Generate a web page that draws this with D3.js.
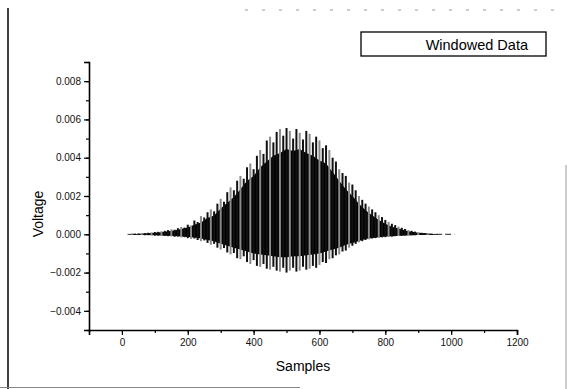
<!DOCTYPE html>
<html>
<head>
<meta charset="utf-8">
<script src="https://cdn.jsdelivr.net/npm/d3@7"></script>
<style>
  body { margin: 0; background: #fff; }
  svg { display: block; font-family: "Liberation Sans", Arial, sans-serif; }
</style>
</head>
<body>
<svg id="chart" width="567" height="389"></svg>
<script>
// sample positions of the outer (spike) envelope, read every 10 samples
const spikeSamples = [
  20, 30, 40, 50, 60, 70, 80, 90, 100, 110, 120, 130, 140, 150, 160, 170, 180, 190,
  200, 210, 220, 230, 240, 250, 260, 270, 280, 290, 300, 310, 320, 330, 340, 350,
  360, 370, 380, 390, 400, 410, 420, 430, 440, 450, 460, 470, 480, 490, 500, 510,
  520, 530, 540, 550, 560, 570, 580, 590, 600, 610, 620, 630, 640, 650, 660, 670,
  680, 690, 700, 710, 720, 730, 740, 750, 760, 770, 780, 790, 800, 810, 820, 830,
  840, 850, 860, 870, 880, 890, 900, 910, 920, 930, 940, 950
];
// highest voltage reached inside each bin (V)
const spikeMax = [
  0.00002, 0.00003, 0.00003, 0.00004, 0.00005, 0.00006, 0.00008, 0.00010, 0.00012, 0.00013,
  0.00016, 0.00018, 0.00022, 0.00026, 0.00024, 0.00032, 0.00038, 0.00035, 0.00050, 0.00046,
  0.00072, 0.00064, 0.00095, 0.00088, 0.00115, 0.00130, 0.00120, 0.00160, 0.00185, 0.00170,
  0.00220, 0.00245, 0.00230, 0.00280, 0.00305, 0.00290, 0.00350, 0.00370, 0.00340, 0.00410,
  0.00440, 0.00420, 0.00490, 0.00510, 0.00480, 0.00535, 0.00550, 0.00515, 0.00555, 0.00540,
  0.00500, 0.00550, 0.00530, 0.00495, 0.00540, 0.00525, 0.00480, 0.00510, 0.00490, 0.00450,
  0.00465, 0.00440, 0.00400, 0.00380, 0.00340, 0.00320, 0.00305, 0.00270, 0.00260, 0.00230,
  0.00200, 0.00180, 0.00160, 0.00145, 0.00130, 0.00115, 0.00100, 0.00090, 0.00075, 0.00065,
  0.00055, 0.00048, 0.00040, 0.00034, 0.00028, 0.00022, 0.00018, 0.00014, 0.00010, 0.00008,
  0.00006, 0.00004, 0.00003, 0.00002
];
// lowest voltage reached inside each bin (V)
const spikeMin = [
  -0.00002, -0.00003, -0.00003, -0.00004, -0.00004, -0.00005, -0.00005, -0.00006, -0.00007, -0.00007,
  -0.00008, -0.00009, -0.00010, -0.00011, -0.00013, -0.00012, -0.00016, -0.00015, -0.00020, -0.00024,
  -0.00022, -0.00030, -0.00036, -0.00032, -0.00045, -0.00055, -0.00050, -0.00070, -0.00080, -0.00072,
  -0.00095, -0.00105, -0.00098, -0.00125, -0.00130, -0.00115, -0.00145, -0.00155, -0.00135, -0.00165,
  -0.00170, -0.00155, -0.00180, -0.00185, -0.00170, -0.00190, -0.00195, -0.00175, -0.00200, -0.00190,
  -0.00175, -0.00195, -0.00190, -0.00170, -0.00185, -0.00180, -0.00165, -0.00175, -0.00160, -0.00145,
  -0.00150, -0.00130, -0.00125, -0.00110, -0.00105, -0.00090, -0.00085, -0.00070, -0.00060, -0.00050,
  -0.00042, -0.00036, -0.00030, -0.00026, -0.00022, -0.00020, -0.00018, -0.00016, -0.00015, -0.00013,
  -0.00012, -0.00010, -0.00009, -0.00008, -0.00007, -0.00006, -0.00005, -0.00005, -0.00004, -0.00004,
  -0.00003, -0.00003, -0.00002, -0.00002
];

// dense (solid black) part of the trace, read every 20 samples
const coreSamples = [
  20, 40, 60, 80, 100, 120, 140, 160, 180, 200, 220, 240, 260, 280, 300, 320, 340, 360,
  380, 400, 420, 440, 460, 480, 500, 520, 540, 560, 580, 600, 620, 640, 660, 680, 700,
  720, 740, 760, 780, 800, 820, 840, 860, 880, 900, 920, 940, 960
];
const coreMax = [
  0.00001, 0.00002, 0.00003, 0.00005, 0.00008, 0.00011, 0.00016, 0.00020, 0.00028, 0.00036,
  0.00050, 0.00062, 0.00085, 0.00098, 0.00135, 0.00165, 0.00195, 0.00235, 0.00280, 0.00305,
  0.00350, 0.00380, 0.00410, 0.00425, 0.00445, 0.00435, 0.00445, 0.00425, 0.00410, 0.00385,
  0.00370, 0.00325, 0.00280, 0.00235, 0.00200, 0.00160, 0.00125, 0.00100, 0.00075, 0.00055,
  0.00040, 0.00030, 0.00020, 0.00013, 0.00008, 0.00005, 0.00002, 0.00001
];
const coreMin = [
  -0.00001, -0.00002, -0.00003, -0.00004, -0.00005, -0.00006, -0.00007, -0.00009, -0.00011, -0.00014,
  -0.00017, -0.00022, -0.00030, -0.00036, -0.00050, -0.00060, -0.00070, -0.00080, -0.00090, -0.00100,
  -0.00105, -0.00110, -0.00115, -0.00120, -0.00120, -0.00115, -0.00115, -0.00110, -0.00105, -0.00100,
  -0.00090, -0.00080, -0.00070, -0.00055, -0.00045, -0.00035, -0.00025, -0.00020, -0.00015, -0.00012,
  -0.00010, -0.00008, -0.00006, -0.00005, -0.00004, -0.00003, -0.00002, -0.00001
];

const xTicks = [0, 200, 400, 600, 800, 1000, 1200];
const yTicks = [-0.004, -0.002, 0.000, 0.002, 0.004, 0.006, 0.008];
const legendLabel = 'Windowed Data';

const margin = { top: 62, right: 50, bottom: 59, left: 89 };
const width = 567 - margin.left - margin.right;
const height = 389 - margin.top - margin.bottom;

const svg = d3.select('#chart');

// scanned page border remnants
svg.append('line').attr('x1', 8).attr('x2', 8).attr('y1', 8).attr('y2', 389)
  .attr('stroke', '#111').attr('stroke-width', 1.6);
svg.append('line').attr('x1', 245).attr('x2', 565).attr('y1', 10).attr('y2', 10)
  .attr('stroke', '#999').attr('stroke-width', 1).attr('stroke-dasharray', '3,14');
svg.append('line').attr('x1', 0).attr('x2', 300).attr('y1', 387.5).attr('y2', 387.5)
  .attr('stroke', '#888').attr('stroke-width', 1.2);
svg.append('line').attr('x1', 566).attr('x2', 566).attr('y1', 165).attr('y2', 389)
  .attr('stroke', '#aaa').attr('stroke-width', 1.2);

const g = svg.append('g').attr('transform', `translate(${margin.left},${margin.top})`);

const x = d3.scaleLinear().domain([-100, 1200]).range([0, width]);
const y = d3.scaleLinear().domain([-0.005, 0.009]).range([height, 0]);

// thin baseline of the trace
g.append('line')
  .attr('x1', x(25)).attr('x2', x(1010))
  .attr('y1', y(0)).attr('y2', y(0))
  .attr('stroke', '#222').attr('stroke-width', 1).attr('stroke-dasharray', '6,3');

// dense core
const core = d3.area()
  .x(d => x(d))
  .y0((d, i) => y(coreMin[i]))
  .y1((d, i) => y(coreMax[i]));

g.append('path')
  .datum(coreSamples)
  .attr('d', core)
  .attr('fill', '#000');

// spikes
g.append('g')
  .selectAll('line')
  .data(spikeSamples)
  .join('line')
  .attr('x1', d => x(d))
  .attr('x2', d => x(d))
  .attr('y1', (d, i) => y(spikeMax[i]))
  .attr('y2', (d, i) => y(spikeMin[i]))
  .attr('stroke', (d, i) => (i % 3 === 1 ? '#8a8a8a' : '#111'))
  .attr('stroke-width', 2);

// axes
const xMinor = d3.range(-100, 1201, 100);
const yMinor = d3.range(-5, 10).map(v => v / 1000);

g.append('g')
  .attr('transform', `translate(0,${height})`)
  .call(d3.axisBottom(x).tickValues(xTicks).tickSize(5).tickPadding(4)
    .tickFormat(d3.format('d')));
g.append('g')
  .attr('transform', `translate(0,${height})`)
  .call(d3.axisBottom(x).tickValues(xMinor).tickSize(3).tickFormat(''))
  .select('.domain').remove();

g.append('g')
  .call(d3.axisLeft(y).tickValues(yTicks).tickSize(5).tickPadding(3)
    .tickFormat(d3.format('.3f')));
g.append('g')
  .call(d3.axisLeft(y).tickValues(yMinor).tickSize(3).tickFormat(''))
  .select('.domain').remove();

g.selectAll('.domain').attr('stroke', '#000').attr('stroke-width', 1.6);
g.selectAll('.tick line').attr('stroke', '#000').attr('stroke-width', 1.2);
g.selectAll('.tick text')
  .attr('fill', '#111')
  .style('font-size', '10px')
  .style('font-family', '"Liberation Sans", Arial, sans-serif');

// axis titles
svg.append('text')
  .attr('x', margin.left + width / 2)
  .attr('y', 371)
  .attr('text-anchor', 'middle')
  .style('font-size', '14px')
  .text('Samples');

svg.append('text')
  .attr('transform', 'translate(43,214) rotate(-90)')
  .attr('text-anchor', 'middle')
  .style('font-size', '14px')
  .text('Voltage');

// legend
const legend = svg.append('g').attr('transform', 'translate(361,32)');
legend.append('rect')
  .attr('width', 185).attr('height', 24)
  .attr('fill', '#fff').attr('stroke', '#000').attr('stroke-width', 1.3);
legend.append('text')
  .attr('x', 167).attr('y', 17.5)
  .attr('text-anchor', 'end')
  .style('font-size', '14.5px')
  .text(legendLabel);
</script>
</body>
</html>
